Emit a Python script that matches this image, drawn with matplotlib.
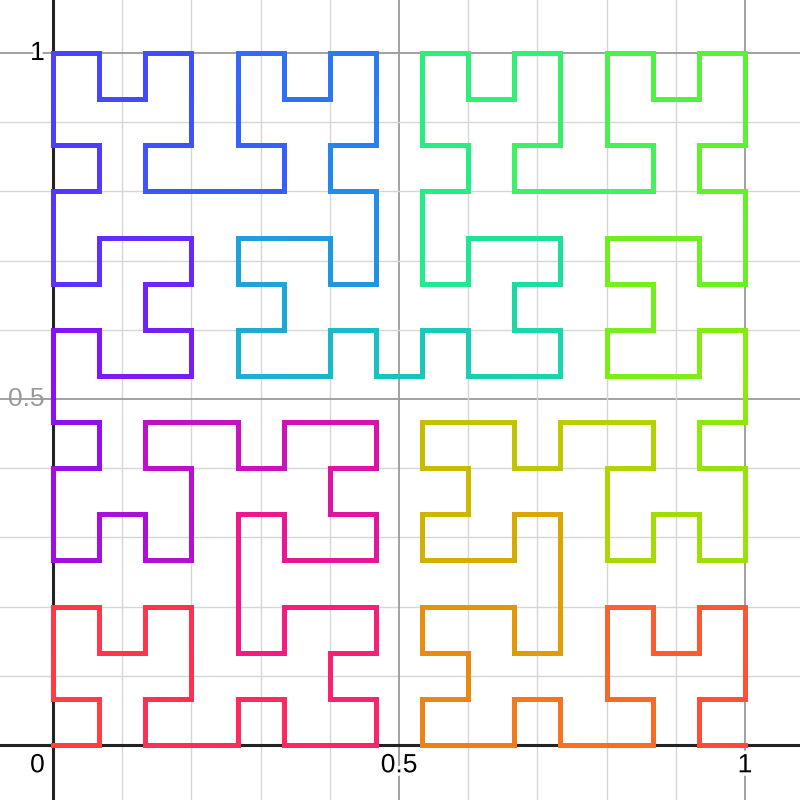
import matplotlib
matplotlib.use("Agg")
import matplotlib.pyplot as plt
import matplotlib.patheffects as pe
from matplotlib.collections import LineCollection
from matplotlib.colors import LinearSegmentedColormap
import numpy as np

# Hilbert curve (order 4) read off the picture as unit moves on a 16x16 grid,
# starting at the origin
moves = ("RULUURDRURDDLDRR URDRRULURULLDLUU URDRRULURULLDLUL LDRDDLULDLUURULU "
         "URDRRULURULLDLUU RULUURDRURDDLDRR RULUURDRURDDLDRD DLULLDRDLDRRURDR "
         "URDRRULURULLDLUU RULUURDRURDDLDRR RULUURDRURDDLDRD DLULLDRDLDRRURDD "
         "LDRDDLULDLUURULL DLULLDRDLDRRURDD DLULLDRDLDRRURDR RULUURDRURDDLDR")
grid_n = 16
x_ticks = [0, 0.5, 1]
y_ticks = [0.5, 1]

# colour along the curve (position 0..1 -> colour)
rainbow = ["#ff4040", "#ff2a5c", "#f0188a", "#c410c4", "#8a10f0", "#5238ff",
           "#3a58ff", "#2090e8", "#18c4c0", "#20ec8c", "#40f060", "#64f02c",
           "#88ea10", "#b8d000", "#dca400", "#f47420", "#ff4a3a"]

step = {"R": (1, 0), "L": (-1, 0), "U": (0, 1), "D": (0, -1)}
pts = [(0, 0)]
for c in moves.replace(" ", ""):
    dx, dy = step[c]
    pts.append((pts[-1][0] + dx, pts[-1][1] + dy))
pts = np.array(pts, dtype=float) / (grid_n - 1)

segs = np.stack([pts[:-1], pts[1:]], axis=1)
nseg = len(segs)
cmap = LinearSegmentedColormap.from_list("curve", rainbow)

fig = plt.figure(figsize=(8, 8), dpi=100)
ax = fig.add_axes([0, 0, 1, 1])
ax.set_xlim(-0.0766, 1.0795)
ax.set_ylim(-0.0795, 1.0766)

# grid: minor every 0.1, major every 0.5
for v in np.arange(-0.1, 1.11, 0.1):
    major = abs(v * 2 - round(v * 2)) < 1e-6
    col = "#9a9a9a" if major else "#d6d6d6"
    lw = 1.3 if major else 1.0
    ax.axvline(v, color=col, lw=lw, zorder=1)
    ax.axhline(v, color=col, lw=lw, zorder=1)
ax.axvline(0, color="#222222", lw=2.2, zorder=2)
ax.axhline(0, color="#222222", lw=2.2, zorder=2)

lc = LineCollection(segs, cmap=cmap, linewidths=3.6, capstyle="projecting",
                    zorder=3)
lc.set_array(np.arange(nseg) / (nseg - 1))
lc.set_clim(0, 1)
ax.add_collection(lc)

halo = [pe.withStroke(linewidth=5, foreground="white")]
font = dict(family="Liberation Sans", fontsize=19)
ax.text(-0.012, -0.012, "0", ha="right", va="top", color="black", zorder=4,
        path_effects=halo, **font)
for v in x_ticks[1:]:
    ax.text(v, -0.012, "{0:g}".format(v), ha="center", va="top", color="black",
            zorder=4, path_effects=halo, **font)
for v in y_ticks:
    if v == 0.5:
        # this one sits under the grid line in the original
        ax.text(-0.012, v, "{0:g}".format(v), ha="right", va="center",
                color="#999999", zorder=0.5, **font)
    else:
        ax.text(-0.012, v, "{0:g}".format(v), ha="right", va="center",
                color="black", zorder=4, path_effects=halo, **font)

ax.set_xticks([])
ax.set_yticks([])
for sp in ax.spines.values():
    sp.set_visible(False)

fig.savefig("out.png", dpi=100)
